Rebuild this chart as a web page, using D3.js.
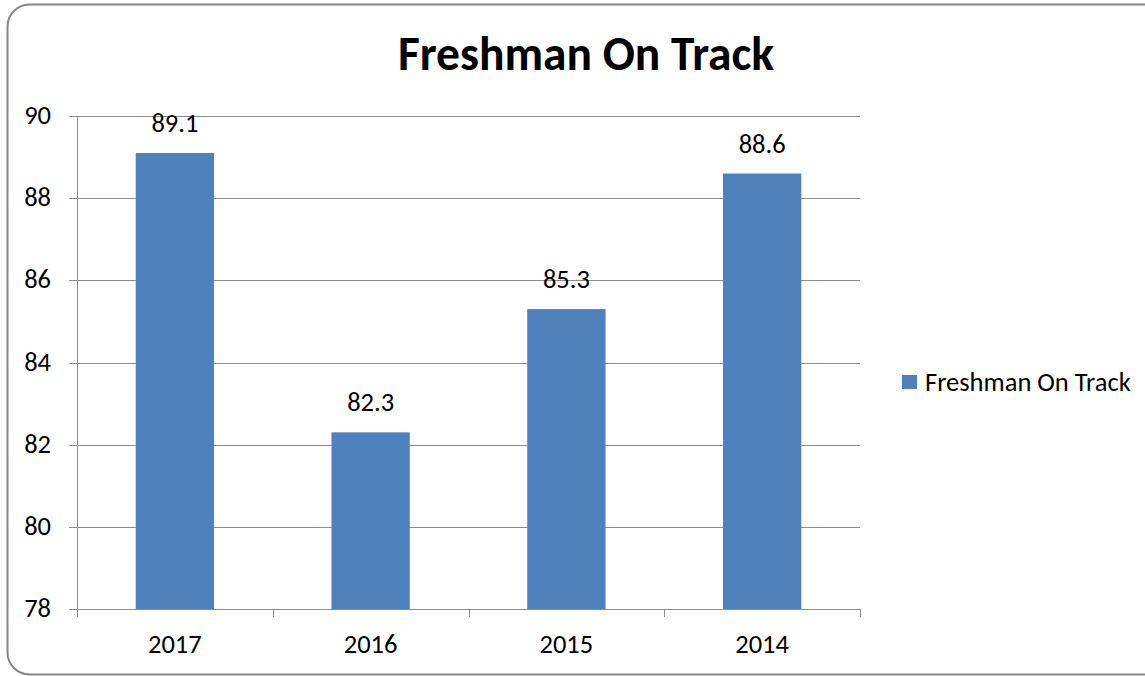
<!DOCTYPE html>
<html>
<head>
<meta charset="utf-8">
<script src="https://cdn.jsdelivr.net/npm/d3@7"></script>
<style>
  body { margin: 0; background: #fff; }
  svg { display: block; }
</style>
</head>
<body>
<svg id="chart"></svg>
<script>
const years = ["2017", "2016", "2015", "2014"];
const values = [89.1, 82.3, 85.3, 88.6];
const yTicks = [78, 80, 82, 84, 86, 88, 90];
const title = "Freshman On Track";
const seriesName = "Freshman On Track";

const width = 1145;
const height = 676;
const font = "Calibri, Carlito, 'Open Sans', 'Liberation Sans', sans-serif";

const svg = d3.select("#chart")
  .attr("width", width)
  .attr("height", height);

// frame
svg.append("rect")
  .attr("x", 7.5).attr("y", 4.5)
  .attr("width", 1160).attr("height", 670)
  .attr("rx", 22).attr("ry", 22)
  .attr("fill", "#fff")
  .attr("stroke", "#868686")
  .attr("stroke-width", 2);

const margin = { left: 77, right: 860, top: 116, bottom: 609 };

const x = d3.scaleBand()
  .domain(years)
  .range([margin.left, margin.right])
  .paddingInner(0.6)
  .paddingOuter(0.3);

const y = d3.scaleLinear()
  .domain([78, 90])
  .range([margin.bottom, margin.top]);

// gridlines
svg.append("g")
  .selectAll("line")
  .data(yTicks)
  .enter().append("line")
  .attr("x1", margin.left - 8)
  .attr("x2", margin.right)
  .attr("y1", d => Math.round(y(d)) + 0.5)
  .attr("y2", d => Math.round(y(d)) + 0.5)
  .attr("stroke", "#8c8c8c")
  .attr("stroke-width", 1);

// y labels
svg.append("g")
  .selectAll("text")
  .data(yTicks)
  .enter().append("text")
  .attr("x", margin.left - 26)
  .attr("y", d => y(d) + 8)
  .attr("text-anchor", "end")
  .attr("font-family", font)
  .attr("font-size", 26.5)
  .attr("fill", "#000")
  .text(d => d);

// y axis line
svg.append("line")
  .attr("x1", margin.left + 0.5).attr("x2", margin.left + 0.5)
  .attr("y1", margin.top).attr("y2", margin.bottom)
  .attr("stroke", "#8c8c8c");

// x tick marks at category boundaries
const boundaries = d3.range(years.length + 1).map(i => margin.left + i * (margin.right - margin.left) / years.length);
svg.append("g")
  .selectAll("line")
  .data(boundaries)
  .enter().append("line")
  .attr("x1", d => Math.round(d) + 0.5)
  .attr("x2", d => Math.round(d) + 0.5)
  .attr("y1", margin.bottom)
  .attr("y2", margin.bottom + 8)
  .attr("stroke", "#8c8c8c");

// bars
svg.append("g")
  .selectAll("rect")
  .data(values)
  .enter().append("rect")
  .attr("x", (d, i) => x(years[i]))
  .attr("y", d => y(d))
  .attr("width", x.bandwidth())
  .attr("height", d => y(78) - y(d))
  .attr("fill", "#4f81bd");

// value labels
svg.append("g")
  .selectAll("text")
  .data(values)
  .enter().append("text")
  .attr("x", (d, i) => x(years[i]) + x.bandwidth() / 2)
  .attr("y", d => y(d) - 21)
  .attr("text-anchor", "middle")
  .attr("font-family", font)
  .attr("font-size", 26.5)
  .attr("fill", "#000")
  .text(d => d.toFixed(1));

// x labels
svg.append("g")
  .selectAll("text")
  .data(years)
  .enter().append("text")
  .attr("x", d => x(d) + x.bandwidth() / 2)
  .attr("y", 653)
  .attr("text-anchor", "middle")
  .attr("font-family", font)
  .attr("font-size", 26.5)
  .attr("fill", "#000")
  .text(d => d);

// title
svg.append("text")
  .attr("x", 586)
  .attr("y", 70)
  .attr("text-anchor", "middle")
  .attr("font-family", font)
  .attr("font-weight", "bold")
  .attr("font-size", 47.5)
  .attr("fill", "#000")
  .text(title);

// legend
const legend = svg.append("g").attr("transform", "translate(902,375)");
legend.append("rect")
  .attr("width", 15).attr("height", 14)
  .attr("fill", "#4f81bd");
legend.append("text")
  .attr("x", 23).attr("y", 16)
  .attr("font-family", font)
  .attr("font-size", 26.5)
  .attr("fill", "#000")
  .text(seriesName);
</script>
</body>
</html>
